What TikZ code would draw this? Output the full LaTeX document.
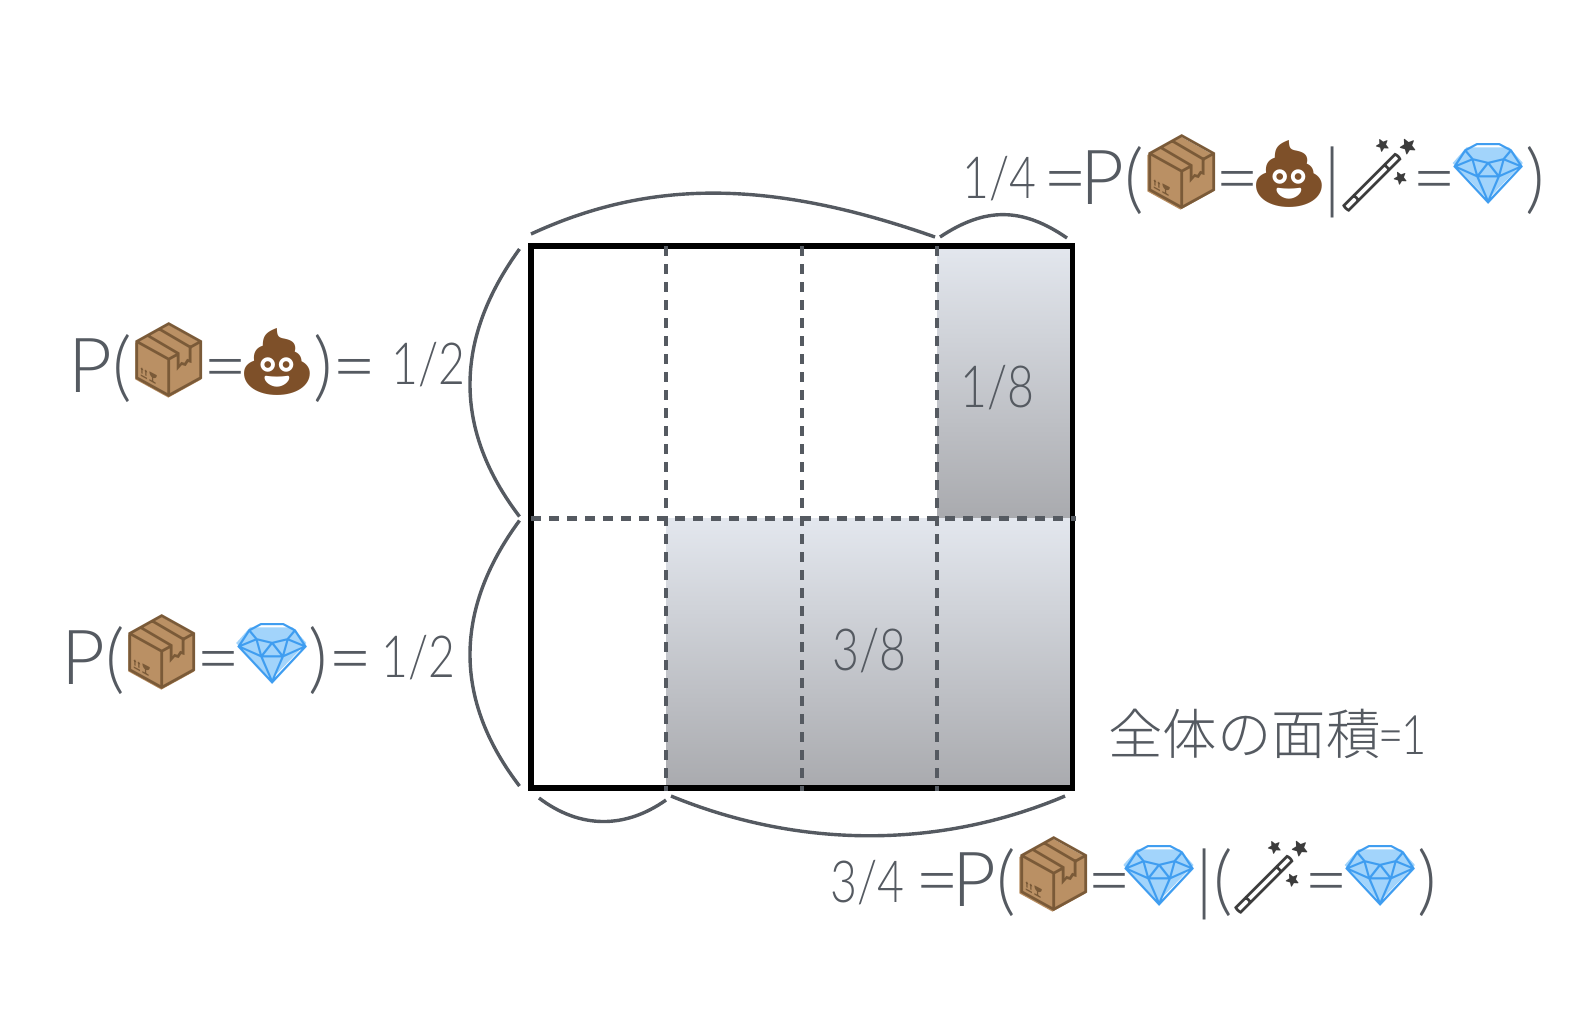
\documentclass[tikz,border=0pt]{standalone}
\usepackage{fontspec}
\usetikzlibrary{positioning,calc}
\setmainfont{Lato Light}
\newfontfamily\fracfont[FakeStretch=0.8]{Lato Light}
\newfontfamily\cjkfont{Noto Sans CJK JP Light}
\newfontfamily\emojifont{Noto Emoji}
\definecolor{inkgray}{HTML}{555A61}
\definecolor{boxfill}{HTML}{BA9064}
\definecolor{boxline}{HTML}{7A5A38}
\definecolor{poobrown}{HTML}{7E5029}
\definecolor{gemfill}{HTML}{A2D4FB}
\definecolor{gemline}{HTML}{3F9DF0}
\definecolor{wandgray}{HTML}{3C3C3C}
\definecolor{shadetop}{HTML}{E3E7EE}
\definecolor{shadebot}{HTML}{A9AAAE}
\newcommand\bigsize{\fontsize{38}{40}\selectfont}
\newcommand\fracsize{\fracfont\fontsize{29}{32}\selectfont}
\newcommand\tighteq{\hspace*{-2pt}=\hspace*{-2pt}}
\newcommand\emparcel{\hspace*{-4pt}\begin{tikzpicture}[baseline=-3.5pt,x=1pt,y=1pt]
    \fill[boxfill] (22.4,30.2) -- (38.9,21) -- (38.9,2.8) -- (22.4,-6.3) -- (5.9,2.8) -- (5.9,21) -- cycle;
    \node[inner sep=0pt,anchor=base west] (parcelglyph) at (0,0) {\emojifont\fontsize{36}{38}\selectfont\color{boxline}\symbol{"1F4E6}};
  \end{tikzpicture}\hspace*{-4pt}}
\newcommand\emgem{\hspace*{-1pt}\begin{tikzpicture}[baseline=-5pt,x=1pt,y=1pt]
    \fill[gemfill] (8,23.3) -- (29.3,23.3) -- (36.2,15.5) -- (18.7,-2.7) -- (1.1,15.5) -- cycle;
    \node[inner sep=0pt,anchor=base west] (gemglyph) at (0,0) {\emojifont\fontsize{30}{32}\selectfont\color{gemline}\symbol{"1F48E}};
  \end{tikzpicture}\hspace*{-1pt}}
\newcommand\empoo{\raisebox{4pt}{\emojifont\fontsize{33}{35}\selectfont\color{poobrown}\hspace*{-4pt}\symbol{"1F4A9}\hspace*{-3pt}}}
\newcommand\emwand{\raisebox{2pt}{\emojifont\fontsize{36}{38}\selectfont\color{wandgray}\hspace*{-4pt}\symbol{"1FA84}\hspace*{-4pt}}}
\begin{document}
\begin{tikzpicture}
  [x=0.5pt,y=-0.5pt,
  areabox/.style={draw=black,line width=2.8pt},
  gridline/.style={draw=inkgray,line width=2.2pt,dash pattern=on 5pt off 4pt,shorten >=-1.5pt},
  brace/.style={draw=inkgray,line width=1.7pt},
  formula/.style={text=inkgray,inner sep=0pt,anchor=base west,font=\bigsize},
  frac/.style={text=inkgray,inner sep=0pt,anchor=base west,font=\fracsize}
  ]
  \useasboundingbox (0,0) rectangle (1594,1030);
  \coordinate (tl) at (531,246);
  \coordinate (tr) at (1072.5,246);
  \coordinate (bl) at (531,788);
  \coordinate (br) at (1072.5,788);
  \coordinate (ml) at (531,518.5);
  \coordinate (mr) at (1072.5,518.5);
  \coordinate (ta) at (666,246);
  \coordinate (tb) at (802,246);
  \coordinate (tc) at (937,246);
  \coordinate (ba) at (666,788);
  \coordinate (bb) at (802,788);
  \coordinate (bc) at (937,788);
  \coordinate (ma) at (666,518.5);

  \shade[top color=shadetop,bottom color=shadebot] (tc) rectangle (mr);
  \shade[top color=shadetop,bottom color=shadebot] (ma) rectangle (br);
  \draw[areabox] (tl) rectangle (br);
  \draw[gridline] (ta) -- (ba);
  \draw[gridline] (tb) -- (bb);
  \draw[gridline] (tc) -- (bc);
  \draw[gridline] (ml) -- (mr);

  % braces
  \coordinate (topa) at (531,234);
  \coordinate (topb) at (935,237);
  \coordinate (topc) at (940,237);
  \coordinate (topd) at (1067,238);
  \coordinate (lefta) at (519.5,249);
  \coordinate (leftb) at (519.5,516.5);
  \coordinate (leftc) at (519.5,520.5);
  \coordinate (leftd) at (519.5,786);
  \coordinate (bota) at (539,798);
  \coordinate (botb) at (666,800);
  \coordinate (botc) at (671,796);
  \coordinate (botd) at (1065,796);
  \draw[brace] (topa) .. controls (650,179) and (770,179) .. (topb);
  \draw[brace] (topc) .. controls (985,207) and (1022,207) .. (topd);
  \draw[brace] (lefta) .. controls (453.5,340) and (453.5,430) .. (leftb);
  \draw[brace] (leftc) .. controls (453.5,610) and (453.5,700) .. (leftd);
  \draw[brace] (bota) .. controls (580,829) and (625,829) .. (botb);
  \draw[brace] (botc) .. controls (800,849) and (940,849) .. (botd);

  \node[formula] (pa) at (68,392) {P(\emparcel\tighteq\empoo)=};
  \node[frac] (pahalf) at (391,384) {1/2};
  \node[formula] (pb) at (61,684) {P(\emparcel\tighteq\emgem)=};
  \node[frac] (pbhalf) at (381,677) {1/2};
  \node[frac] (qa) at (962,198) {1/4};
  \node[formula] (pc) at (1043,204) {=\hspace*{-3.5pt}P(\emparcel\tighteq\empoo\hspace*{-1pt}|\emwand\tighteq\emgem)};
  \node[frac] (qb) at (830,902) {3/4};
  \node[formula] (pd) at (915,906) {=\hspace*{-3.5pt}P(\emparcel\tighteq\hspace*{-2pt}\emgem|(\emwand\tighteq\emgem)};
  \node[frac] (eighth) at (960,407) {1/8};
  \node[frac] (threeeighth) at (832,670) {3/8};
  \node[text=inkgray,inner sep=0pt,anchor=base west] (whole) at (1108,754) {\fontsize{27.2}{30}\selectfont{\cjkfont 全体の面積}\fracfont\hspace*{-1pt}=\hspace*{-1pt}1};
\end{tikzpicture}
\end{document}
